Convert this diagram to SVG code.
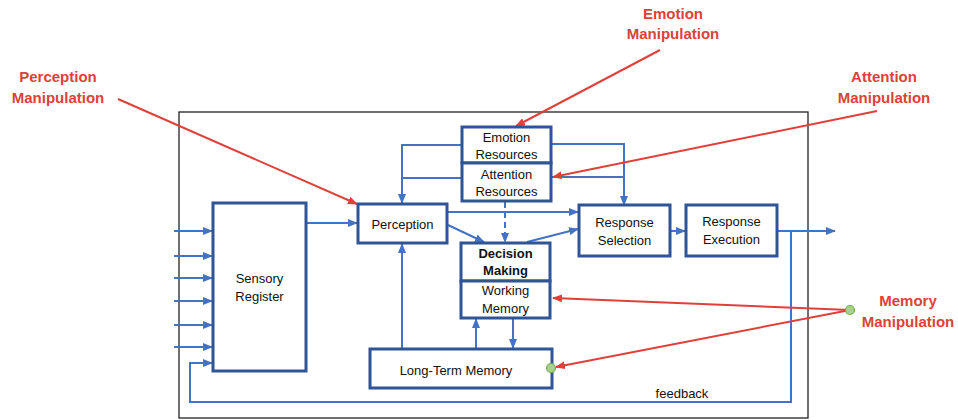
<svg xmlns="http://www.w3.org/2000/svg" width="958" height="420" viewBox="0 0 958 420">
<defs>
<marker id="ab" markerUnits="userSpaceOnUse" markerWidth="10" markerHeight="8" refX="9" refY="4" orient="auto"><path d="M0,0 L10,4 L0,8 z" fill="#4472C4"/></marker>
<marker id="ar" markerUnits="userSpaceOnUse" markerWidth="10" markerHeight="8" refX="9" refY="4" orient="auto"><path d="M0,0 L10,4 L0,8 z" fill="#E0403A"/></marker>
<style>
.node{fill:#fff;stroke:#2F5597;stroke-width:3}
.t{font-family:"Liberation Sans",Arial,sans-serif;font-size:13px;fill:#111;text-anchor:middle}
.b{font-weight:bold}
.c{fill:none;stroke:#4472C4;stroke-width:2}
.r{fill:none;stroke:#E0403A;stroke-width:2}
.lab{font-family:"Liberation Sans",Arial,sans-serif;font-size:15px;font-weight:bold;fill:#E0403A;text-anchor:middle}
.dot{fill:#A9D18E;stroke:#70AD47;stroke-width:1.2}
</style>
</defs>
<rect width="958" height="420" fill="#fff"/>
<rect x="179" y="112" width="629" height="306" fill="none" stroke="#222" stroke-width="1.3"/>

<g id="connectors">
<!-- inputs -->
<path class="c" d="M174,231 H212" marker-end="url(#ab)"/>
<path class="c" d="M174,256 H212" marker-end="url(#ab)"/>
<path class="c" d="M174,278 H212" marker-end="url(#ab)"/>
<path class="c" d="M174,301 H212" marker-end="url(#ab)"/>
<path class="c" d="M174,325 H212" marker-end="url(#ab)"/>
<path class="c" d="M174,347 H212" marker-end="url(#ab)"/>
<!-- feedback -->
<path class="c" d="M777,231 H835" marker-end="url(#ab)"/>
<path class="c" d="M791,231 V402 H190 V363 H212" marker-end="url(#ab)"/>
<!-- sensory -> perception -->
<path class="c" d="M306,223 H357" marker-end="url(#ab)"/>
<!-- perception -> response selection -->
<path class="c" d="M448,212 H578" marker-end="url(#ab)"/>
<!-- perception -> decision -->
<path class="c" d="M448,225 L484,242" marker-end="url(#ab)"/>
<!-- decision -> response selection -->
<path class="c" d="M527,242 L578,229" marker-end="url(#ab)"/>
<!-- selection -> execution -->
<path class="c" d="M670,231 H685" marker-end="url(#ab)"/>
<!-- attention -> decision dashed -->
<path class="c" d="M505,202 V242" stroke-dasharray="6,4" marker-end="url(#ab)"/>
<!-- emotion/attention -> perception -->
<path class="c" d="M461,145 H402 V203" marker-end="url(#ab)"/>
<path class="c" d="M461,178 H402"/>
<!-- emotion/attention -> response selection -->
<path class="c" d="M552,144 H624 V205" marker-end="url(#ab)"/>
<path class="c" d="M552,177 H624"/>
<!-- LTM -> perception -->
<path class="c" d="M402,349 V244" marker-end="url(#ab)"/>
<!-- LTM <-> WM -->
<path class="c" d="M476,349 V319" marker-end="url(#ab)"/>
<path class="c" d="M513,319 V348" marker-end="url(#ab)"/>
<!-- red manipulations -->
<path class="r" d="M118,99 L357,204" marker-end="url(#ar)"/>
<path class="r" d="M660,50 L516,126" marker-end="url(#ar)"/>
<path class="r" d="M877,111 L553,177" marker-end="url(#ar)"/>
<path class="r" d="M850,310 L553,298" marker-end="url(#ar)"/>
<path class="r" d="M850,310 L556,367" marker-end="url(#ar)"/>
</g>

<g id="sensory-register">
<rect class="node" x="213" y="203" width="93" height="168"/>
<text class="t" x="259.5" y="283">Sensory</text>
<text class="t" x="259.5" y="301">Register</text>
</g>
<g id="perception">
<rect class="node" x="358" y="204" width="89" height="39"/>
<text class="t" x="402.5" y="229">Perception</text>
</g>
<g id="emotion-resources">
<rect class="node" x="462" y="127" width="89" height="36"/>
<text class="t" x="506.5" y="142">Emotion</text>
<text class="t" x="506.5" y="159">Resources</text>
</g>
<g id="attention-resources">
<rect class="node" x="462" y="163" width="89" height="38"/>
<text class="t" x="506.5" y="179">Attention</text>
<text class="t" x="506.5" y="196">Resources</text>
</g>
<g id="response-selection">
<rect class="node" x="579" y="205" width="91" height="51"/>
<text class="t" x="624.5" y="227">Response</text>
<text class="t" x="624.5" y="245">Selection</text>
</g>
<g id="response-execution">
<rect class="node" x="686" y="205" width="91" height="51"/>
<text class="t" x="731.5" y="226">Response</text>
<text class="t" x="731.5" y="244">Execution</text>
</g>
<g id="decision-making">
<rect class="node" x="461" y="243" width="89" height="38"/>
<text class="t b" x="505.5" y="258">Decision</text>
<text class="t b" x="505.5" y="275">Making</text>
</g>
<g id="working-memory">
<rect class="node" x="461" y="281" width="89" height="37"/>
<text class="t" x="505.5" y="295">Working</text>
<text class="t" x="505.5" y="313">Memory</text>
</g>
<g id="long-term-memory">
<rect class="node" x="370" y="349" width="182" height="39"/>
<text class="t" x="456" y="375">Long-Term Memory</text>
</g>
<g id="feedback-label">
<text class="t" x="682" y="398">feedback</text>
</g>

<g id="perception-manipulation">
<text class="lab" x="58" y="82">Perception</text>
<text class="lab" x="58" y="103">Manipulation</text>
</g>
<g id="emotion-manipulation">
<text class="lab" x="673" y="19">Emotion</text>
<text class="lab" x="673" y="39">Manipulation</text>
</g>
<g id="attention-manipulation">
<text class="lab" x="884" y="82">Attention</text>
<text class="lab" x="884" y="103">Manipulation</text>
</g>
<g id="memory-manipulation">
<circle class="dot" cx="850" cy="310" r="4.5"/>
<circle class="dot" cx="551" cy="368" r="4.5"/>
<text class="lab" x="908" y="306">Memory</text>
<text class="lab" x="908" y="327">Manipulation</text>
</g>
</svg>
